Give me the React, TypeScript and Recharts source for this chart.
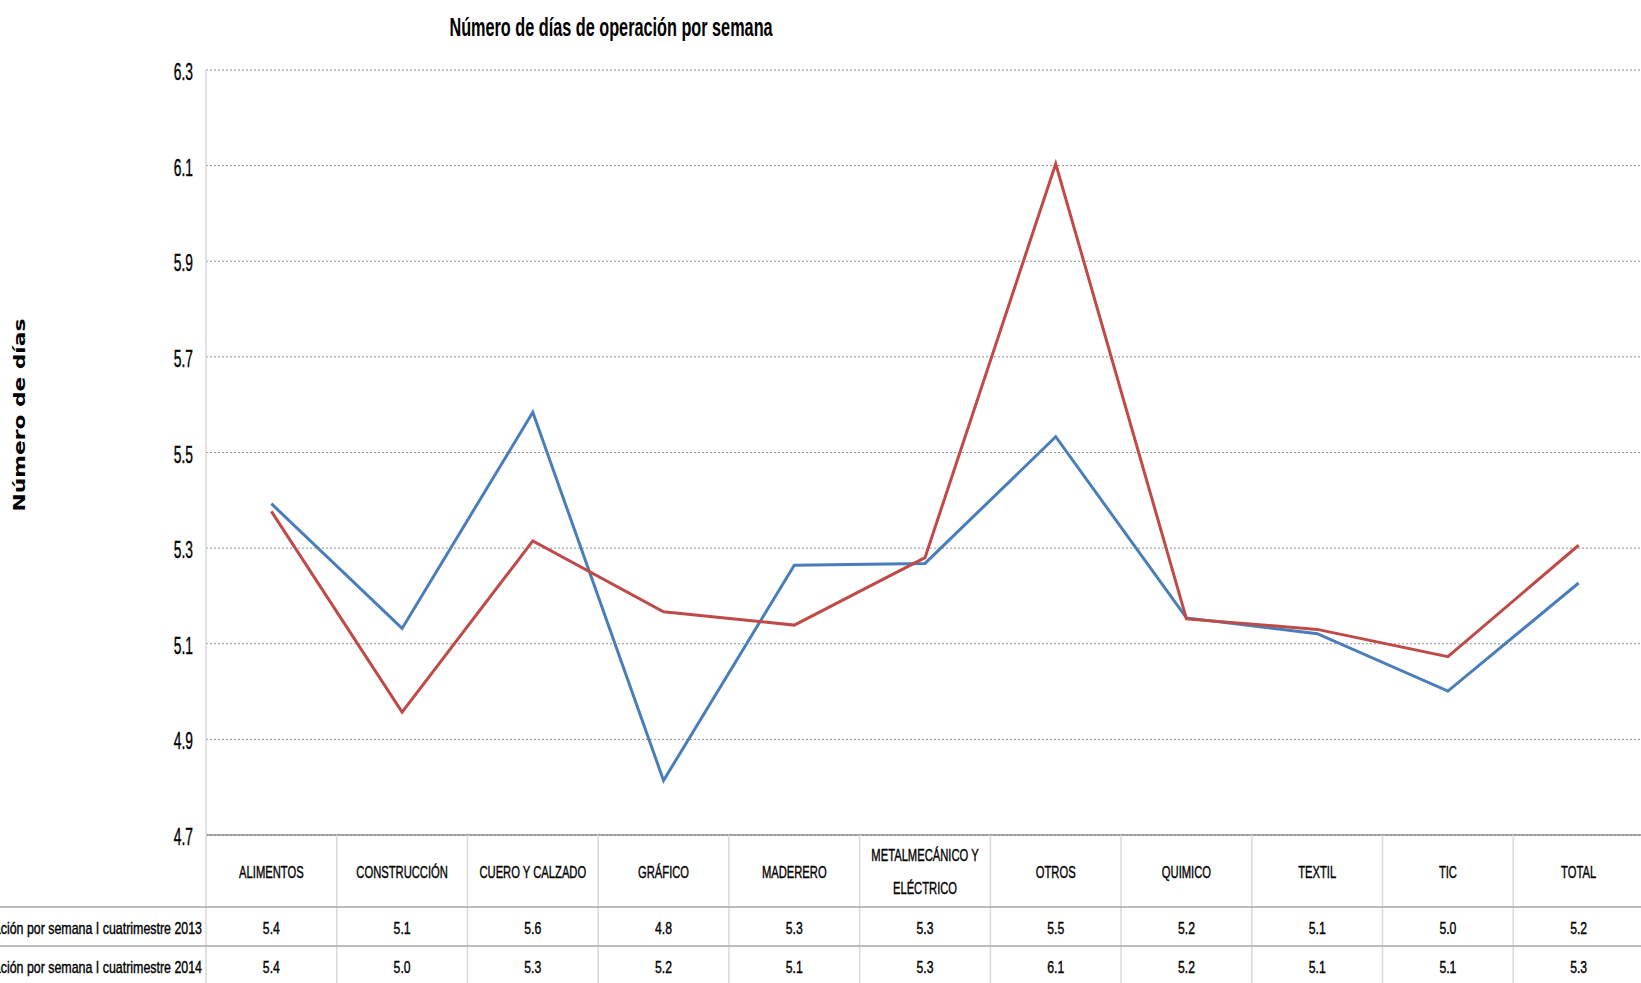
import React from 'react';
import { LineChart, Line, XAxis, YAxis, CartesianGrid } from 'recharts';

const categories = [
  'ALIMENTOS',
  'CONSTRUCCIÓN',
  'CUERO Y CALZADO',
  'GRÁFICO',
  'MADERERO',
  'METALMECÁNICO Y ELÉCTRICO',
  'OTROS',
  'QUIMICO',
  'TEXTIL',
  'TIC',
  'TOTAL',
];
const dias2013 = [5.393, 5.132, 5.584, 4.814, 5.264, 5.268, 5.533, 5.154, 5.121, 5.001, 5.227];
const dias2014 = [5.377, 4.957, 5.315, 5.167, 5.139, 5.28, 6.104, 5.152, 5.13, 5.073, 5.306];
const seriesNames = [
  'Número de días de operación por semana I cuatrimestre 2013',
  'Número de días de operación por semana I cuatrimestre 2014',
];
const yTicks = [4.7, 4.9, 5.1, 5.3, 5.5, 5.7, 5.9, 6.1, 6.3];

const title = 'Número de días de operación por semana';
const yLabel = 'Número de días';

const BLUE = '#4a7ebb';
const RED = '#be4b48';

// layout of the chart (Excel-like plot with data table under it)
const CHART_W = 1644;
const CHART_H = 983;
const TOP = 70;
const Y_AXIS_W = 206;
const X_AXIS_H = 148;
const AXIS_Y = CHART_H - X_AXIS_H;
const COL_W = (CHART_W - Y_AXIS_W) / categories.length;
const FONT = "'Liberation Sans', Arial, sans-serif";

const data = categories.map((cat, i) => ({
  idx: i,
  cat,
  d2013: dias2013[i],
  d2014: dias2014[i],
}));

// Calibri in the original looks narrow: squeeze Arial-metric text horizontally
function Squeezed({ x, y, text, size, weight = 'normal', anchor = 'middle', sx = 0.66 }: any) {
  return (
    <text
      transform={`translate(${x} ${y}) scale(${sx} 1)`}
      textAnchor={anchor}
      fontFamily={FONT}
      fontSize={size}
      fontWeight={weight}
      fill="#000"
      stroke="#000"
      strokeWidth={0.4}
    >
      {text}
    </text>
  );
}

const wrapLabel = (label: string, maxChars: number) => {
  const lines: string[] = [];
  let cur = '';
  label.split(' ').forEach(w => {
    const next = cur ? cur + ' ' + w : w;
    if (next.length > maxChars && cur) {
      lines.push(cur);
      cur = w;
    } else {
      cur = next;
    }
  });
  if (cur) lines.push(cur);
  return lines;
};

// one column of the data table, drawn as the x axis tick
const TableColumn = (props: any) => {
  const { x, payload } = props;
  const i = payload.value as number;
  const left = x - COL_W / 2;
  const right = x + COL_W / 2;
  const row1 = AXIS_Y + 72;
  const row2 = AXIS_Y + 111;
  const lines = wrapLabel(categories[i], 16);
  const vals = [dias2013[i], dias2014[i]];
  return (
    <g>
      <line x1={right} y1={AXIS_Y} x2={right} y2={CHART_H} stroke="#d9d9d9" strokeWidth={1.5} />
      {i === 0 && <line x1={left} y1={AXIS_Y} x2={left} y2={CHART_H} stroke="#d9d9d9" strokeWidth={1.5} />}
      <line x1={i === 0 ? 0 : left} y1={row1} x2={right} y2={row1} stroke="#a6a6a6" strokeWidth={1.5} />
      <line x1={i === 0 ? 0 : left} y1={row2} x2={right} y2={row2} stroke="#a6a6a6" strokeWidth={1.5} />
      {lines.length === 1 ? (
        <Squeezed x={x} y={AXIS_Y + 43} text={lines[0]} size={17} />
      ) : (
        lines.map((l, k) => <Squeezed key={k} x={x} y={AXIS_Y + 26 + k * 32.5} text={l} size={17} />)
      )}
      <Squeezed x={x} y={AXIS_Y + 99} text={vals[0].toFixed(1)} size={17} sx={0.72} />
      <Squeezed x={x} y={AXIS_Y + 138} text={vals[1].toFixed(1)} size={17} sx={0.72} />
      {i === 0 &&
        seriesNames.map((name, k) => (
          <Squeezed key={k} x={left - 4} y={AXIS_Y + 99 + k * 39} text={name} size={17} anchor="end" sx={0.73} />
        ))}
    </g>
  );
};

const YTick = (props: any) => {
  const { y, payload } = props;
  return <Squeezed x={193} y={y + 10} text={Number(payload.value).toFixed(1)} size={23} anchor="end" sx={0.6} />;
};

export default function App() {
  return (
    <div
      style={{
        position: 'fixed',
        left: 0,
        top: 0,
        width: 1641,
        height: 983,
        overflow: 'hidden',
        background: '#fff',
      }}
    >
      <LineChart width={CHART_W} height={CHART_H} data={data} margin={{ top: TOP, right: 0, bottom: 0, left: 0 }}>
        <CartesianGrid vertical={false} stroke="#8f8f8f" strokeDasharray="2 2" />
        <XAxis
          dataKey="idx"
          type="number"
          domain={[-0.5, categories.length - 0.5]}
          ticks={categories.map((_, i) => i)}
          interval={0}
          tickLine={false}
          axisLine={{ stroke: '#8c8c8c', strokeWidth: 1.5 }}
          height={X_AXIS_H}
          tick={(p: any) => <TableColumn {...p} />}
        />
        <YAxis
          type="number"
          domain={[4.7, 6.3]}
          ticks={yTicks}
          interval={0}
          width={Y_AXIS_W}
          tickLine={false}
          axisLine={{ stroke: '#d9d9d9', strokeWidth: 1.5 }}
          tick={(p: any) => <YTick {...p} />}
        />
        <Line
          type="linear"
          dataKey="d2013"
          name={seriesNames[0]}
          stroke={BLUE}
          strokeWidth={3}
          dot={false}
          isAnimationActive={false}
        />
        <Line
          type="linear"
          dataKey="d2014"
          name={seriesNames[1]}
          stroke={RED}
          strokeWidth={3}
          dot={false}
          isAnimationActive={false}
        />
      </LineChart>
      <svg
        width={1641}
        height={983}
        style={{ position: 'absolute', left: 0, top: 0, pointerEvents: 'none' }}
      >
        <text
          transform="translate(611 36) scale(0.65 1)"
          textAnchor="middle"
          fontFamily={FONT}
          fontSize={25}
          fontWeight="bold"
          fill="#000"
        >
          {title}
        </text>
        <text
          transform="translate(25 415) rotate(-90) scale(1.45 1)"
          textAnchor="middle"
          fontFamily="'DejaVu Sans', Verdana, sans-serif"
          fontSize={15}
          fontWeight="bold"
          fill="#000"
        >
          {yLabel}
        </text>
      </svg>
    </div>
  );
}
